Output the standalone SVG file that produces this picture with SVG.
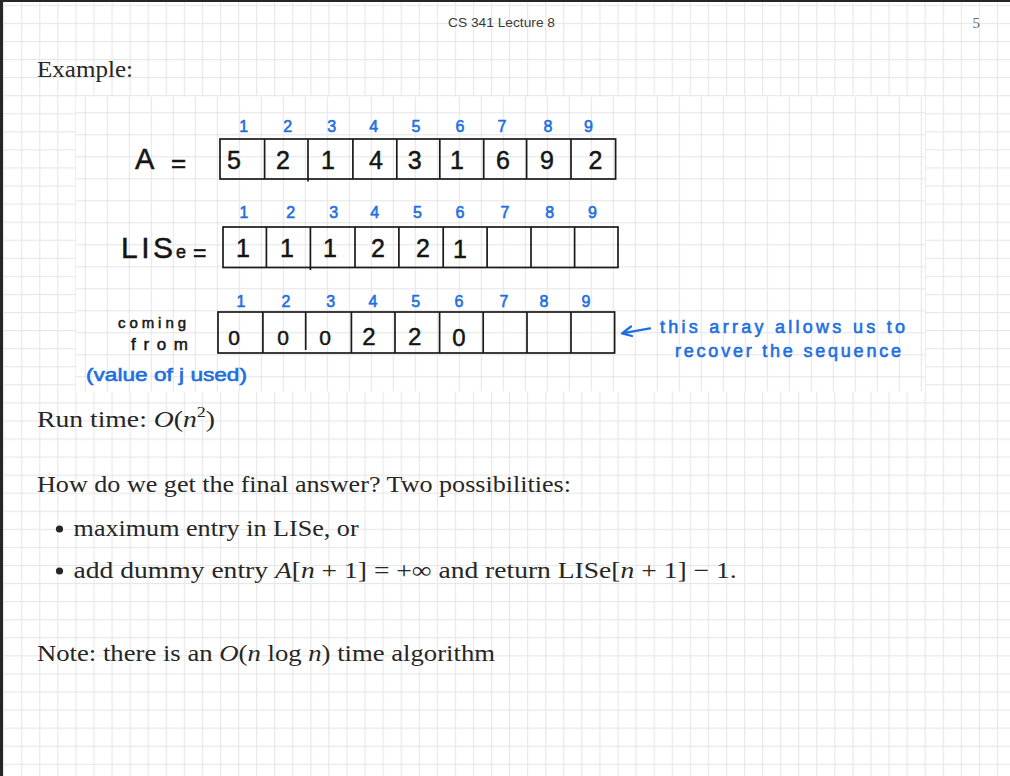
<svg xmlns="http://www.w3.org/2000/svg" width="1010" height="776" viewBox="0 0 1010 776">
<defs>
<style>
.tex{font-family:"Liberation Serif",serif;font-size:23px;fill:#262626}
.it{font-style:italic}
.hw{font-family:"Liberation Sans",sans-serif;fill:#151515;stroke:#151515;stroke-width:0.5}
.bl{font-family:"Liberation Sans",sans-serif;fill:#1f6fdf;stroke:#1f6fdf;stroke-width:0.6}
.idx{font-size:16px;text-anchor:middle}
.dg{font-size:25px;text-anchor:middle}
.box{fill:none;stroke:#1a1a1a;stroke-width:1.7}
</style>
<pattern id="gOut" patternUnits="userSpaceOnUse" x="3.1" y="4.8" width="18.07" height="18.07">
<rect width="18.07" height="18.07" fill="#fff"/>
<rect width="1.1" height="18.07" fill="#e7e7e7"/>
<rect width="18.07" height="1.1" fill="#e7e7e7"/>
</pattern>
<pattern id="gIn" patternUnits="userSpaceOnUse" x="18.8" y="2.2" width="22" height="22">
<rect width="22" height="22" fill="#fff"/>
<rect width="1.1" height="22" fill="#e7e7e7"/>
<rect width="22" height="1.1" fill="#e7e7e7"/>
</pattern>
</defs>
<g id="background">
<rect width="1010" height="776" fill="url(#gOut)"/>
<rect x="76" y="96.6" width="849" height="295" fill="url(#gIn)"/>
<rect width="1010" height="2" fill="#262626"/>
<rect width="3" height="776" fill="#262626"/>
</g>
<g id="header">
<text x="448" y="27" font-family="Liberation Sans,sans-serif" font-size="13.5" fill="#3a3a3a" textLength="107" lengthAdjust="spacingAndGlyphs">CS 341 Lecture 8</text>
<text x="972.5" y="28" font-family="Liberation Serif,serif" font-size="15" fill="#666">5</text>
</g>
<g id="example-title">
<text class="tex" x="37" y="77" textLength="96" lengthAdjust="spacingAndGlyphs">Example:</text>
</g>
<g id="array-A">
<text class="hw" x="135" y="169" font-size="29">A</text>
<text class="hw" x="171" y="172" font-size="26">=</text>
<g class="bl idx">
<text x="243.7" y="132">1</text><text x="287.6" y="132">2</text><text x="331.6" y="132">3</text><text x="373.8" y="132">4</text><text x="416" y="132">5</text><text x="460" y="132">6</text><text x="502" y="132">7</text><text x="548" y="132">8</text><text x="588.5" y="132">9</text>
</g>
<rect class="box" x="220" y="139" width="395.6" height="40"/>
<path class="box" d="M264.6 139V179M308 139V181.5M352.9 139V179M396.8 139V179M439.8 139V179M483.7 139V179M526.6 139V179M571 139V179"/>
<g class="hw dg">
<text x="234" y="169">5</text><text x="283" y="169">2</text><text x="328" y="169">1</text><text x="376" y="169">4</text><text x="414.6" y="169">3</text><text x="457" y="169">1</text><text x="503" y="169">6</text><text x="547" y="169">9</text><text x="595.5" y="169">2</text>
</g>
</g>
<g id="array-LISe">
<text class="hw" x="121" y="258" font-size="30" textLength="52" lengthAdjust="spacing">LIS</text>
<text class="hw" x="176" y="258" font-size="18">e</text>
<text class="hw" x="193" y="261" font-size="23">=</text>
<g class="bl idx">
<text x="244" y="218">1</text><text x="290.7" y="218">2</text><text x="333.6" y="218">3</text><text x="374.6" y="218">4</text><text x="417.5" y="218">5</text><text x="460" y="218">6</text><text x="505" y="218">7</text><text x="549.6" y="218">8</text><text x="592.5" y="218">9</text>
</g>
<rect class="box" x="223" y="227" width="395" height="40.5"/>
<path class="box" d="M266.4 227V267.5M310.4 227V270M355 227V267.5M398.9 227V267.5M443.2 227V267.5M487.1 227V267.5M531 227V267.5M574.6 227V267.5"/>
<g class="hw dg">
<text x="243" y="257">1</text><text x="287" y="257">1</text><text x="330" y="257">1</text><text x="378" y="257">2</text><text x="423" y="257">2</text><text x="460" y="258">1</text>
</g>
</g>
<g id="array-from">
<text class="hw" x="118" y="328" font-size="15" textLength="68" lengthAdjust="spacing">coming</text>
<text class="hw" x="131" y="350" font-size="17" textLength="57" lengthAdjust="spacing">from</text>
<text class="bl" x="86" y="381" font-size="18" textLength="161" lengthAdjust="spacingAndGlyphs">(value of j used)</text>
<g class="bl idx">
<text x="241" y="307">1</text><text x="286" y="307">2</text><text x="330.7" y="307">3</text><text x="372.9" y="307">4</text><text x="415.7" y="307">5</text><text x="459" y="307">6</text><text x="504" y="307">7</text><text x="544" y="307">8</text><text x="586" y="307">9</text>
</g>
<rect class="box" x="218" y="312" width="396.6" height="41"/>
<path class="box" d="M262.9 312V353M305.7 312V350M351.4 312V353M395 312V353M439.6 312V353M483.2 312V353M527 312V353M571 312V353"/>
<g class="hw">
<text x="234" y="345" font-size="21" text-anchor="middle">0</text><text x="283" y="345" font-size="21" text-anchor="middle">0</text><text x="325" y="345" font-size="21" text-anchor="middle">0</text><text x="369" y="345" font-size="24" text-anchor="middle">2</text><text x="414.6" y="345" font-size="24" text-anchor="middle">2</text><text x="459" y="346" font-size="24" text-anchor="middle">0</text>
</g>
</g>
<g id="annotation">
<text class="bl" x="660" y="333" font-size="18" textLength="245" lengthAdjust="spacing">this array allows us to</text>
<text class="bl" x="675" y="357" font-size="18" textLength="226" lengthAdjust="spacing">recover the sequence</text>
</g>
<g id="connectors">
<path d="M650 328.3 L622 333.3 M631 326.5 L622 333.3 L632 336" fill="none" stroke="#1f6fdf" stroke-width="2.3" stroke-linecap="round" stroke-linejoin="round"/>
</g>
<g id="runtime">
<text class="tex" x="37" y="427" textLength="178" lengthAdjust="spacingAndGlyphs">Run time: <tspan class="it">O</tspan>(<tspan class="it">n</tspan><tspan dy="-10" font-size="15">2</tspan><tspan dy="10">)</tspan></text>
</g>
<g id="question">
<text class="tex" x="37" y="492" textLength="534" lengthAdjust="spacingAndGlyphs">How do we get the final answer? Two possibilities:</text>
</g>
<g id="bullets">
<circle cx="59.5" cy="529" r="3.6" fill="#262626"/>
<text class="tex" x="73.6" y="536" textLength="285" lengthAdjust="spacingAndGlyphs">maximum entry in LISe, or</text>
<circle cx="59.5" cy="571" r="3.6" fill="#262626"/>
<text class="tex" x="73.6" y="578" textLength="663" lengthAdjust="spacingAndGlyphs">add dummy entry <tspan class="it">A</tspan>[<tspan class="it">n</tspan> + 1] = +∞ and return LISe[<tspan class="it">n</tspan> + 1] − 1.</text>
</g>
<g id="note">
<text class="tex" x="37" y="661" textLength="458" lengthAdjust="spacingAndGlyphs">Note:  there is an <tspan class="it">O</tspan>(<tspan class="it">n</tspan> log <tspan class="it">n</tspan>) time algorithm</text>
</g>
</svg>
